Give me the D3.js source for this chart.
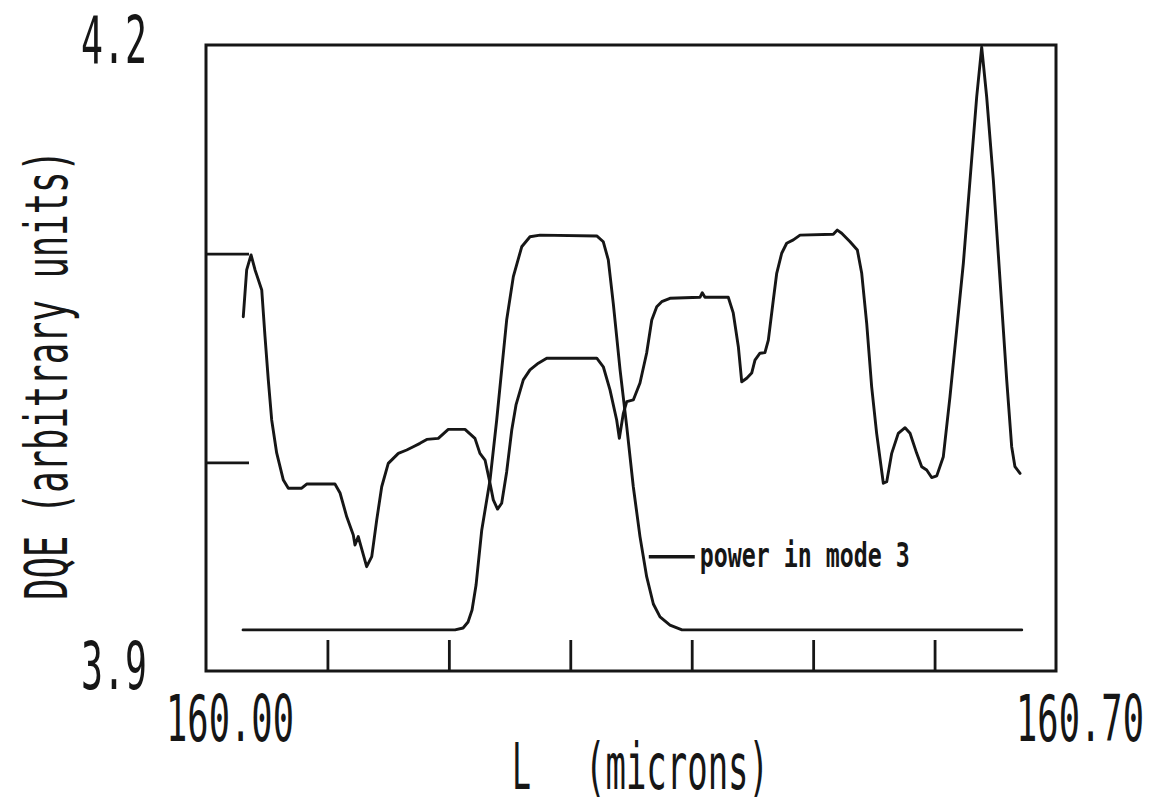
<!DOCTYPE html>
<html>
<head>
<meta charset="utf-8">
<script src="https://cdn.jsdelivr.net/npm/d3@7"></script>
<style>
  html, body { margin: 0; padding: 0; background: #ffffff; }
  svg { display: block; }
  text { font-family: "DejaVu Sans Mono", "Liberation Mono", monospace; fill: #161616; }
</style>
</head>
<body>
<svg id="chart" width="1155" height="805"></svg>
<script>
// Cavity length L (microns) and the DQE response, in arbitrary units
const dqeL = [
  160.0307, 160.0335, 160.0371, 160.0404, 160.0459, 160.0486, 160.0513, 160.0541, 160.0582, 160.0637,
  160.0678, 160.0788, 160.0829, 160.1062, 160.1104, 160.1159, 160.1213, 160.1227, 160.1254, 160.1323,
  160.1365, 160.1406, 160.1447, 160.1501, 160.1584, 160.1653, 160.1707, 160.1762, 160.1818, 160.1913,
  160.1995, 160.2133, 160.2215, 160.2256, 160.2298, 160.2339, 160.2366, 160.2401, 160.2435, 160.2476,
  160.2518, 160.2553, 160.2613, 160.2668, 160.2737, 160.2806, 160.3218, 160.3272, 160.3327, 160.3382,
  160.3404, 160.3437, 160.3465, 160.3519, 160.3574, 160.3629, 160.3671, 160.3712, 160.3753, 160.3821,
  160.4068, 160.4087, 160.4109, 160.4301, 160.4342, 160.4384, 160.4412, 160.4453, 160.4494, 160.4521,
  160.4562, 160.4603, 160.4631, 160.4672, 160.4700, 160.4741, 160.4782, 160.4837, 160.4892, 160.5166,
  160.5199, 160.5235, 160.5304, 160.5364, 160.5400, 160.5441, 160.5482, 160.5523, 160.5578, 160.5606,
  160.5647, 160.5701, 160.5757, 160.5798, 160.5853, 160.5894, 160.5935, 160.5976, 160.6018, 160.6072,
  160.6127, 160.6182, 160.6237, 160.6292, 160.6347, 160.6388, 160.6429, 160.6484, 160.6539, 160.6594,
  160.6635, 160.6662, 160.6704
];
const dqeValue = [
  4.0698, 4.0922, 4.0994, 4.0922, 4.0826, 4.0602, 4.0395, 4.0203, 4.0045, 3.9915,
  3.9876, 3.9876, 3.9896, 3.9896, 3.9853, 3.9739, 3.9652, 3.9604, 3.9644, 3.9500,
  3.9548, 3.9724, 3.9883, 3.9995, 4.0043, 4.0059, 4.0075, 4.0091, 4.0110, 4.0115,
  4.0158, 4.0158, 4.0115, 4.0043, 4.0011, 3.9900, 3.9820, 3.9776, 3.9804, 3.9954,
  4.0155, 4.0275, 4.0395, 4.0443, 4.0475, 4.0499, 4.0499, 4.0458, 4.0347, 4.0203,
  4.0115, 4.0235, 4.0291, 4.0299, 4.0380, 4.0524, 4.0682, 4.0746, 4.0770, 4.0786,
  4.0791, 4.0813, 4.0791, 4.0791, 4.0716, 4.0554, 4.0386, 4.0403, 4.0428, 4.0490,
  4.0523, 4.0526, 4.0586, 4.0778, 4.0906, 4.1002, 4.1050, 4.1066, 4.1089, 4.1093,
  4.1113, 4.1098, 4.1057, 4.1018, 4.0906, 4.0666, 4.0362, 4.0139, 3.9900, 3.9907,
  4.0043, 4.0139, 4.0166, 4.0139, 4.0043, 3.9979, 3.9963, 3.9927, 3.9935, 4.0027,
  4.0315, 4.0634, 4.0954, 4.1353, 4.1752, 4.1990, 4.1752, 4.1353, 4.0874, 4.0395,
  4.0075, 3.9979, 3.9947
];

// Power in mode 3, drawn on the same arbitrary vertical units
const powerL = [
  160.0305, 160.2051, 160.2117, 160.2158, 160.2191, 160.2224, 160.2271, 160.2339, 160.2394, 160.2435,
  160.2476, 160.2531, 160.2600, 160.2668, 160.2751, 160.3218, 160.3272, 160.3313, 160.3354, 160.3410,
  160.3465, 160.3519, 160.3574, 160.3629, 160.3684, 160.3739, 160.3821, 160.3920, 160.6718
];
const powerValue = [
  3.9197, 3.9197, 3.9206, 3.9235, 3.9292, 3.9412, 3.9676, 3.9915, 4.0203, 4.0443,
  4.0682, 4.0890, 4.1033, 4.1081, 4.1089, 4.1085, 4.1057, 4.0970, 4.0762, 4.0443,
  4.0171, 3.9883, 3.9644, 3.9452, 3.9321, 3.9259, 3.9220, 3.9197, 3.9197
];

const xDomain = [160.00, 160.70];
const yDomain = [3.9, 4.2];
const xTickValues = [160.1, 160.2, 160.3, 160.4, 160.5, 160.6];
const yTickValues = [4.0, 4.1];
const xEndLabels = ["160.00", "160.70"];
const yEndLabels = ["3.9", "4.2"];
const xTitleSymbol = "L";
const xTitleUnits = "(microns)";
const yTitle = "DQE (arbitrary units)";
const curveLabel = "power in mode 3";
const curveLabelAt = [160.3630, 3.9452];

const ink = "#161616";
const svg = d3.select("#chart");

const x = d3.scaleLinear().domain(xDomain).range([206, 1056]);
const y = d3.scaleLinear().domain(yDomain).range([671, 45]);

// narrow plotter-style lettering: squeeze a text horizontally to a given width
function narrowText(str, size, width, place, opts = {}) {
  const t = svg.append("text")
    .attr("font-size", size)
    .attr("font-weight", opts.weight || "normal")
    .text(str);
  const w = t.node().getComputedTextLength();
  const sx = width / w;
  const dx = opts.anchor === "end" ? -w : 0;
  t.attr("x", dx);
  t.attr("transform", `${place} scale(${sx},1)`);
  return t;
}

// frame
svg.append("rect")
  .attr("x", x(xDomain[0])).attr("y", y(yDomain[1]))
  .attr("width", x(xDomain[1]) - x(xDomain[0]))
  .attr("height", y(yDomain[0]) - y(yDomain[1]))
  .attr("fill", "none").attr("stroke", ink).attr("stroke-width", 3);

// inward ticks
const xAxis = svg.append("g")
  .attr("transform", `translate(0,${y(yDomain[0])})`)
  .call(d3.axisBottom(x).tickValues(xTickValues).tickSize(-31).tickFormat(""));
const yAxis = svg.append("g")
  .attr("transform", `translate(${x(xDomain[0])},0)`)
  .call(d3.axisLeft(y).tickValues(yTickValues).tickSize(-43).tickFormat(""));
[xAxis, yAxis].forEach(g => {
  g.select(".domain").remove();
  g.selectAll(".tick line").attr("stroke", ink).attr("stroke-width", 2.8);
});

// curves
const line = d3.line().x(d => x(d[0])).y(d => y(d[1])).curve(d3.curveLinear);
const dqe = dqeL.map((v, i) => [v, dqeValue[i]]);
const power = powerL.map((v, i) => [v, powerValue[i]]);

svg.append("path").datum(power)
  .attr("d", line).attr("fill", "none")
  .attr("stroke", ink).attr("stroke-width", 2.9)
  .attr("stroke-linejoin", "round").attr("stroke-linecap", "round");
svg.append("path").datum(dqe)
  .attr("d", line).attr("fill", "none")
  .attr("stroke", ink).attr("stroke-width", 2.9)
  .attr("stroke-linejoin", "round").attr("stroke-linecap", "round");

// axis end labels
yEndLabels.forEach((t, i) => {
  const v = i === 0 ? yDomain[0] : yDomain[1];
  narrowText(t, 66, 66, `translate(${x(xDomain[0]) - 59},${y(v) + 18})`, { anchor: "end" });
});
xEndLabels.forEach((t, i) => {
  narrowText(t, 64, 128, `translate(${x(xDomain[i]) - 40},${y(yDomain[0]) + 70})`);
});

// axis titles
narrowText(xTitleSymbol, 64, 19, "translate(512,789)");
narrowText(xTitleUnits, 64, 184, "translate(585,789)");
narrowText(yTitle, 59, 450, "translate(67,600) rotate(-90)");

// curve annotation
const lx = x(curveLabelAt[0]), ly = y(curveLabelAt[1]) - 20;
svg.append("line")
  .attr("x1", lx + 2).attr("x2", lx + 48)
  .attr("y1", ly).attr("y2", ly)
  .attr("stroke", ink).attr("stroke-width", 3.5);
narrowText(curveLabel, 34, 210, `translate(${lx + 53},${ly + 10})`, { weight: "bold" });
</script>
</body>
</html>
